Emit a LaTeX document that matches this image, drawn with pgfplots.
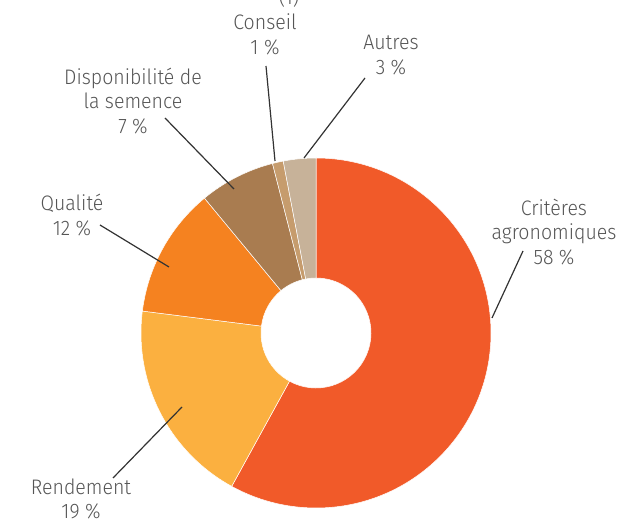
\documentclass[border=0pt]{standalone}
\usepackage{pgfplots}
\pgfplotsset{compat=1.18}
\usepackage{fontspec}
\setmainfont{Fira Sans}[UprightFont={* Light}, FakeStretch=0.93]
\usetikzlibrary{calc}

\definecolor{cCrit}{HTML}{F15A29}
\definecolor{cRend}{HTML}{FBB040}
\definecolor{cQual}{HTML}{F58220}
\definecolor{cDisp}{HTML}{A97C50}
\definecolor{cCons}{HTML}{C69C6D}
\definecolor{cAutr}{HTML}{C7B299}
\definecolor{txt}{HTML}{555555}

\tikzset{lab/.style={font=\fontsize{10.5}{12.4}\selectfont, text=txt, align=center, inner sep=0pt},
         lead/.style={black!80, line width=0.6pt}}

% one sector of the ring: colour, start angle, end angle
\newcommand{\sector}[3]{%
  \fill[#1, draw=white, line width=0.25pt]
    ($(axis cs:0,0)+(#2:87.5pt)$) arc[start angle=#2, end angle=#3, radius=87.5pt]
    -- ($(axis cs:0,0)+(#3:27.5pt)$) arc[start angle=#3, end angle=#2, radius=27.5pt]
    -- cycle;}

\begin{document}
\begin{tikzpicture}
% shares in percent, clockwise from the top
\pgfmathsetmacro{\aA}{90}
\pgfmathsetmacro{\aB}{\aA-3.6*58}
\pgfmathsetmacro{\aC}{\aB-3.6*19}
\pgfmathsetmacro{\aD}{\aC-3.6*12}
\pgfmathsetmacro{\aE}{\aD-3.6*7}
\pgfmathsetmacro{\aF}{\aE-3.6*1}
\pgfmathsetmacro{\aG}{\aF-3.6*3}
\begin{axis}[
    scale only axis,
    width=308.5pt, height=262.5pt,
    xmin=-316, xmax=301, ymin=-192, ymax=333,
    hide axis, clip=false,
]
\sector{cCrit}{\aA}{\aB}
\sector{cRend}{\aB}{\aC}
\sector{cQual}{\aC}{\aD}
\sector{cDisp}{\aD}{\aE}
\sector{cCons}{\aE}{\aF}
\sector{cAutr}{\aF}{\aG}

% leader lines
\draw[lead] (axis cs:-50,267) -- (axis cs:-41,172);
\draw[lead] (axis cs:49,255) -- (axis cs:-12,175);
\draw[lead] (axis cs:-151,215) -- (axis cs:-82,144);
\draw[lead] (axis cs:-216,108) -- (axis cs:-147,66);
\draw[lead] (axis cs:207,82) -- (axis cs:176,15);
\draw[lead] (axis cs:-203,-145) -- (axis cs:-134,-74);

% labels
\node[lab] at (axis cs:-27,336) {(1)};
\node[lab] at (axis cs:-51,299) {Conseil\\1 \%};
\node[lab] at (axis cs:75,278) {Autres\\3 \%};
\node[lab] at (axis cs:-183,232) {Disponibilité de\\la semence\\7 \%};
\node[lab] at (axis cs:-244,118) {Qualité\\12 \%};
\node[lab] at (axis cs:238,101) {Critères\\agronomiques\\58 \%};
\node[lab] at (axis cs:-235,-166) {Rendement\\19 \%};
\end{axis}
\pgfresetboundingbox
\useasboundingbox (current axis.south west) rectangle (current axis.north east);
\end{tikzpicture}
\end{document}
